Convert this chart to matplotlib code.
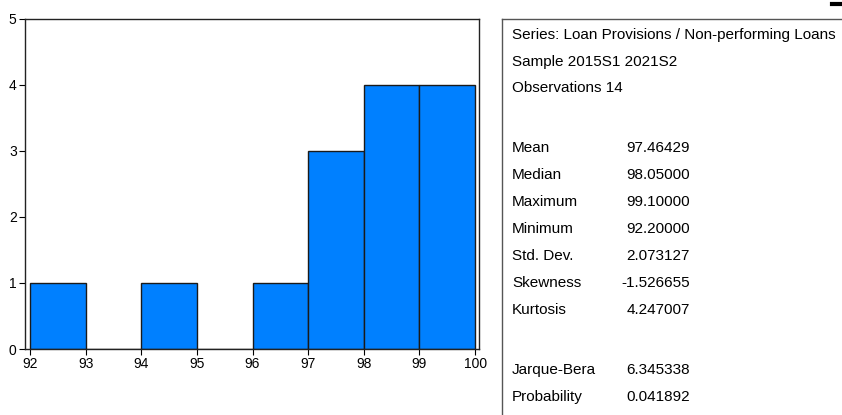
import matplotlib.pyplot as plt

# histogram bins and counts
bin_left = [92, 93, 94, 95, 96, 97, 98, 99]
counts = [1, 0, 1, 0, 1, 3, 4, 4]
x_ticks = [92, 93, 94, 95, 96, 97, 98, 99, 100]
y_ticks = [0, 1, 2, 3, 4, 5]

header = ['Series: Loan Provisions / Non-performing Loans',
          'Sample 2015S1 2021S2',
          'Observations 14']
stat_names = ['Mean', 'Median', 'Maximum', 'Minimum', 'Std. Dev.',
              'Skewness', 'Kurtosis']
stat_values = ['97.46429', '98.05000', '99.10000', '92.20000', '2.073127',
               '-1.526655', '4.247007']
test_names = ['Jarque-Bera', 'Probability']
test_values = ['6.345338', '0.041892']

plt.rcParams['font.family'] = ['Liberation Sans', 'DejaVu Sans']

fig = plt.figure(figsize=(8.42, 4.15), dpi=100)
W, H = 842, 415
ax = fig.add_axes([25 / W, 1 - 349 / H, (479 - 25) / W, (349 - 19) / H])

ax.bar(bin_left, counts, width=1, align='edge', color='#0080ff',
       edgecolor='#1a1a1a', linewidth=1)
ax.set_xlim(91.91, 100.07)
ax.set_ylim(0, 5)
ax.set_xticks(x_ticks)
ax.set_yticks(y_ticks)
ax.tick_params(direction='out', length=4, width=0.8, labelsize=10, pad=2)
for s in ax.spines.values():
    s.set_linewidth(1.0)
    s.set_color('#222222')

# stats panel borders
fig.add_artist(plt.Line2D([502 / W, 502 / W], [0, 1 - 19 / H], color='#555555', lw=1))
fig.add_artist(plt.Line2D([502 / W, 1], [1 - 19 / H, 1 - 19 / H], color='#555555', lw=1))
fig.add_artist(plt.Line2D([832 / W, 842 / W], [1 - 4 / H, 1 - 4 / H], color='black', lw=3))

fs = 11
x_name = 512 / W
x_val = 690 / W

def put(txt, x, ypix, ha='left'):
    fig.text(x, 1 - ypix / H, txt, fontsize=fs, va='center', ha=ha)

for i, t in enumerate(header):
    put(t, x_name, 35 + i * 26.7)
for i, (n, v) in enumerate(zip(stat_names, stat_values)):
    y = 148 + i * 27
    put(n, x_name, y)
    put(v, x_val, y, ha='right')
for i, (n, v) in enumerate(zip(test_names, test_values)):
    y = 370 + i * 27
    put(n, x_name, y)
    put(v, x_val, y, ha='right')

fig.savefig('out.png', dpi=100)
